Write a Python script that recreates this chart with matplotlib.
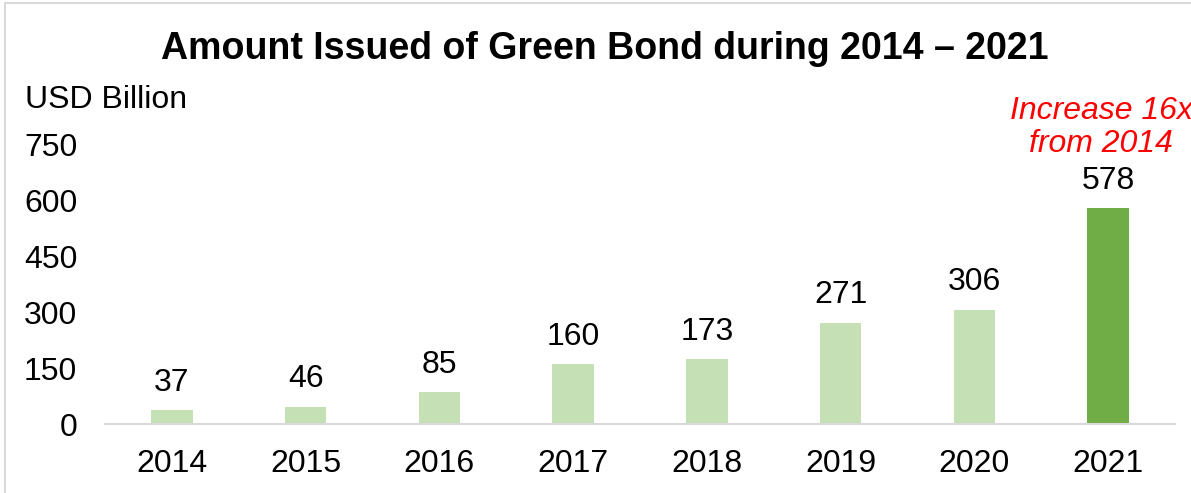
import matplotlib
matplotlib.use("Agg")
import matplotlib.pyplot as plt
import matplotlib.patches as mpatches

plt.rcParams["font.family"] = ["Liberation Sans", "DejaVu Sans"]

# Green bond issuance, USD billion
years = ["2014", "2015", "2016", "2017", "2018", "2019", "2020", "2021"]
amounts = [37, 46, 85, 160, 173, 271, 306, 578]
y_ticks = [0, 150, 300, 450, 600, 750]

LIGHT = "#C5E0B4"
DARK = "#70AD47"
GRID = "#D9D9D9"
FS = 23

W, H = 1191, 493
fig = plt.figure(figsize=(W / 100, H / 100), dpi=100)
fig.patch.set_facecolor("white")

# thin frame around the chart (only top/left fall inside the canvas)
frame = mpatches.Rectangle((4.5 / W, -0.1), 1.2, 1.1 - 3.5 / H,
                           transform=fig.transFigure, fill=False,
                           edgecolor=GRID, linewidth=1.5)
fig.patches.append(frame)

ax = fig.add_axes([105 / W, (H - 424) / H, (1175 - 105) / W, (424 - 144) / H])
colors = [LIGHT] * (len(years) - 1) + [DARK]
x = range(len(years))
ax.bar(x, amounts, width=0.31, color=colors, zorder=2)

ax.set_xlim(-0.5, len(years) - 0.5)
ax.set_ylim(0, 750)
ax.set_yticks(y_ticks)
ax.set_xticks(list(x))
ax.set_xticklabels(years)

for side in ["top", "right", "left"]:
    ax.spines[side].set_visible(False)
ax.spines["bottom"].set_color(GRID)
ax.spines["bottom"].set_linewidth(1.5)
ax.tick_params(axis="both", length=0, labelsize=FS, colors="black")
ax.tick_params(axis="y", pad=20)
ax.tick_params(axis="x", pad=18)

for xi, v in zip(x, amounts):
    ax.annotate(str(v), (xi, v), xytext=(0, 9), textcoords="offset points",
                ha="center", va="bottom", fontsize=FS, annotation_clip=False)

ax.annotate("Increase 16x\nfrom 2014", (len(years) - 1, 578), xytext=(-5, 58),
            textcoords="offset points", ha="center", va="center",
            fontsize=FS, style="italic", color="#FF0000", linespacing=1.13,
            annotation_clip=False)

fig.text(605 / W, 1 - 49 / H, "Amount Issued of Green Bond during 2014 \u2013 2021",
         ha="center", va="center", fontsize=27, fontweight="bold")
fig.text(25 / W, 1 - 100 / H, "USD Billion", ha="left", va="center", fontsize=FS)

fig.savefig("out.png", dpi=100, facecolor="white")
